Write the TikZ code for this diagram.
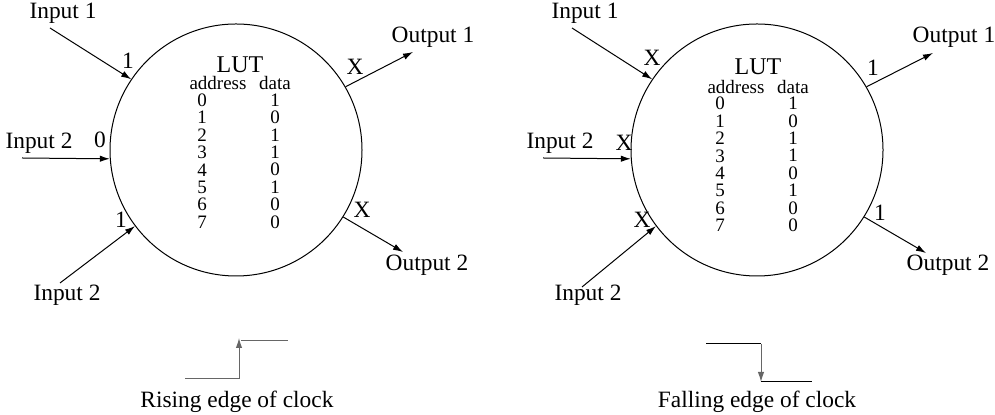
\documentclass[tikz,border=0pt]{standalone}
\usepackage{fontspec}
\setmainfont{Liberation Serif}
\usetikzlibrary{arrows.meta}

\begin{document}
\begin{tikzpicture}[x=0.5pt, y=-0.5pt, >={Latex[length=5pt,width=3.2pt]}, line width=0.5pt]
    \tikzstyle{lbl}=[font=\fontsize{11.7}{14}\selectfont, inner sep=0];
    \tikzstyle{lut}=[draw, circle, minimum size=126pt, inner sep=0];
    \tikzstyle{head}=[font=\fontsize{9.5}{10}\selectfont, inner sep=0];
    \tikzstyle{col}=[font=\fontsize{9.5}{8.7}\selectfont, align=center, inner sep=0];
    \tikzstyle{clk}=[draw=black!60];
    \useasboundingbox (0,0) rectangle (995,415);

    % rising edge
    \node[lut] (lutA) at (236,150) {};
    \node[font=\fontsize{12}{14}\selectfont, inner sep=0] (titleA) at (240,65) {LUT};
    \node[head] (addrA) at (218,83) {address};
    \node[head] (dataA) at (275,83) {data};
    \node[col] (addrcolA) at (202,161) {0\\1\\2\\3\\4\\5\\6\\7};
    \node[col] (datacolA) at (275,161) {1\\0\\1\\1\\0\\1\\0\\0};

    \node[lbl] (in1A) at (63,13) {Input 1};
    \node[lbl] (in2A) at (39,143) {Input 2};
    \node[lbl] (in3A) at (67,295) {Input 2};
    \node[lbl] (out1A) at (433,37) {Output 1};
    \node[lbl] (out2A) at (427,265) {Output 2};
    \node[lbl] (v1A) at (128,61) {1};
    \node[lbl] (v2A) at (100,140) {0};
    \node[lbl] (v3A) at (121,220) {1};
    \node[lbl] (v4A) at (355,67) {X};
    \node[lbl] (v5A) at (362,210) {X};

    \coordinate (s1A) at (50,28);
    \coordinate (s2A) at (22,158);
    \coordinate (s3A) at (60,283);
    \coordinate (e1A) at (413,52);
    \coordinate (e2A) at (403,252);

    \path[->]
    (s1A) edge (lutA.146)
    (s2A) edge (lutA.184)
    (s3A) edge (lutA.217)
    (lutA.30) edge (e1A)
    (lutA.-32) edge (e2A);

    % falling edge
    \node[lut] (lutB) at (757,150) {};
    \node[font=\fontsize{12}{14}\selectfont, inner sep=0] (titleB) at (758,67) {LUT};
    \node[head] (addrB) at (736,87) {address};
    \node[head] (dataB) at (793,87) {data};
    \node[col] (addrcolB) at (720,164.5) {0\\1\\2\\3\\4\\5\\6\\7};
    \node[col] (datacolB) at (793,164.5) {1\\0\\1\\1\\0\\1\\0\\0};

    \node[lbl] (in1B) at (585,13) {Input 1};
    \node[lbl] (in2B) at (560,143) {Input 2};
    \node[lbl] (in3B) at (588,295) {Input 2};
    \node[lbl] (out1B) at (954,37) {Output 1};
    \node[lbl] (out2B) at (948,265) {Output 2};
    \node[lbl] (v1B) at (652,58) {X};
    \node[lbl] (v2B) at (624,143) {X};
    \node[lbl] (v3B) at (642,220) {X};
    \node[lbl] (v4B) at (873,68) {1};
    \node[lbl] (v5B) at (880,213) {1};

    \coordinate (s1B) at (572,28);
    \coordinate (s2B) at (543,158);
    \coordinate (s3B) at (582,287);
    \coordinate (e1B) at (933,53);
    \coordinate (e2B) at (926,253);

    \path[->]
    (s1B) edge (lutB.146)
    (s2B) edge (lutB.184)
    (s3B) edge (lutB.217)
    (lutB.30) edge (e1B)
    (lutB.-32) edge (e2B);

    % clock edges
    \coordinate (r1) at (185,379);
    \coordinate (r2) at (239,379);
    \coordinate (r3) at (239,338);
    \coordinate (r4) at (241,341);
    \coordinate (r5) at (288,341);
    \draw[clk] (r1) -- (r2);
    \draw[clk, ->] (r2) -- (r3);
    \draw[clk] (r4) -- (r5);
    \node[lbl] (rise) at (237,402) {Rising edge of clock};

    \coordinate (f1) at (706,344);
    \coordinate (f2) at (761,344);
    \coordinate (f3) at (761,382);
    \coordinate (f4) at (812,382);
    \draw (f1) -- (f2);
    \draw[clk, ->] (f2) -- (f3);
    \draw (f3) -- (f4);
    \node[lbl] (fall) at (757,402) {Falling edge of clock};
\end{tikzpicture}
\end{document}
